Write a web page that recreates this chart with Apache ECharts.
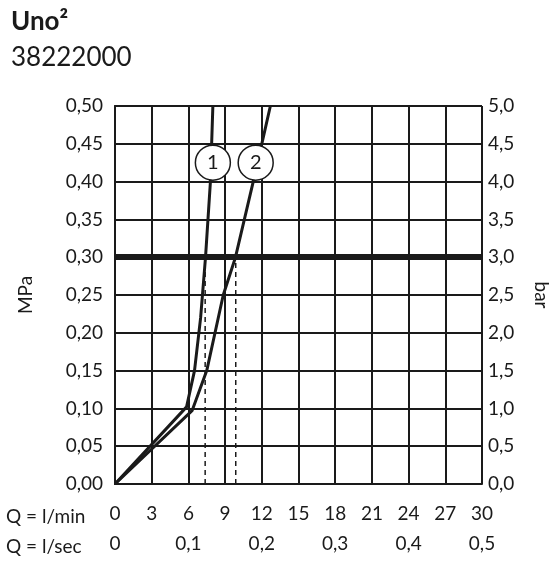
<!DOCTYPE html>
<html>
<head>
<meta charset="UTF-8">
<script src="https://cdn.jsdelivr.net/npm/echarts@6/dist/echarts.min.js"></script>
<style>
    html, body { margin: 0; padding: 0; background: #fff; }
    #chart { width: 559px; height: 561px; }
</style>
</head>
<body>
<div id="chart"></div>
<script>
    // flow l/min vs pressure MPa
    var curve1 = [[0, 0], [5.85, 0.102], [6.5, 0.15], [7.0, 0.22], [7.4, 0.30], [7.8, 0.40], [8.0, 0.50]]
    var curve2 = [[0, 0], [6.3, 0.097], [7.5, 0.15], [8.85, 0.25], [9.85, 0.30], [11.3, 0.40], [12.0, 0.45], [12.7, 0.50]]
    var dashed = [[7.37, 0.30], [9.87, 0.30]]
    var markers = [[8.0, 0.425, '1'], [11.5, 0.425, '2']]
    var limit = 0.30

    var font = 'Lato'
    var black = '#1a1a1a'
    var chart = echarts.init(document.getElementById('chart'))

    var series = [
        {type: 'line', data: curve1, symbol: 'none', lineStyle: {color: black, width: 3}, z: 3,
            markLine: {silent: true, symbol: 'none', label: {show: false},
                lineStyle: {color: black, width: 6, type: 'solid'},
                data: [{yAxis: limit}]}},
        {type: 'line', data: curve2, symbol: 'none', lineStyle: {color: black, width: 3}, z: 3},
        {type: 'scatter', data: markers, symbol: 'circle', symbolSize: 35, z: 5,
            itemStyle: {color: '#fff', opacity: 1, borderColor: black, borderWidth: 1.5},
            label: {show: true, position: 'inside', formatter: function (p) { return p.value[2] },
                color: black, fontSize: 20, fontFamily: font}}
    ]
    dashed.forEach(function (d) {
        series.push({type: 'line', data: [[d[0], 0], d], symbol: 'none', z: 2,
            lineStyle: {color: black, width: 1.5, type: [5, 4]}})
    })

    var comma = function (v, n) { return v.toFixed(n).replace('.', ',') }
    var gridLine = {show: true, lineStyle: {color: black, width: 2}}

    chart.setOption({
        animation: false,
        grid: {left: 115, right: 72, top: 106, bottom: 77},
        title: [
            {text: 'Uno²', left: 6, top: 4, textStyle: {fontFamily: font, fontSize: 26, fontWeight: 'bold', color: black}},
            {text: '38222000', left: 6, top: 40, textStyle: {fontFamily: font, fontSize: 26, fontWeight: 'normal', color: black}}
        ],
        graphic: [
            {type: 'text', left: 6, top: 507, style: {text: 'Q = l/min', font: '19px Lato', fill: black}},
            {type: 'text', left: 6, top: 537, style: {text: 'Q = l/sec', font: '19px Lato', fill: black}}
        ],
        xAxis: [
            {type: 'value', min: 0, max: 30, interval: 3, position: 'bottom',
                axisLine: {lineStyle: {color: black, width: 2}}, axisTick: {show: false},
                splitLine: gridLine,
                axisLabel: {color: black, fontSize: 19, fontFamily: font, margin: 20}},
            {type: 'value', min: 0, max: 30, interval: 6, position: 'bottom', offset: 30,
                axisLine: {show: false}, axisTick: {show: false}, splitLine: {show: false},
                axisLabel: {color: black, fontSize: 19, fontFamily: font, margin: 20,
                    formatter: function (v) { return v === 0 ? '0' : comma(v / 60, 1) }}}
        ],
        yAxis: [
            {type: 'value', min: 0, max: 0.5, interval: 0.05, name: 'MPa', nameLocation: 'middle', nameGap: 80,
                nameTextStyle: {color: black, fontSize: 19, fontFamily: font},
                axisLine: {show: true, lineStyle: {color: black, width: 2}},
                axisTick: {show: true, inside: true, length: 6, lineStyle: {color: black}},
                splitLine: gridLine,
                axisLabel: {color: black, fontSize: 19, fontFamily: font, margin: 12,
                    formatter: function (v) { return comma(v, 2) }}},
            {type: 'value', min: 0, max: 5, interval: 0.5, name: 'bar', nameLocation: 'middle', nameGap: 50,
                nameRotate: -90,
                nameTextStyle: {color: black, fontSize: 19, fontFamily: font},
                axisLine: {show: true, lineStyle: {color: black, width: 2}},
                axisTick: {show: true, inside: false, length: 6, lineStyle: {color: black}},
                splitLine: {show: false},
                axisLabel: {color: black, fontSize: 19, fontFamily: font, margin: 6,
                    formatter: function (v) { return comma(v, 1) }}}
        ],
        series: series
    })
</script>
</body>
</html>
